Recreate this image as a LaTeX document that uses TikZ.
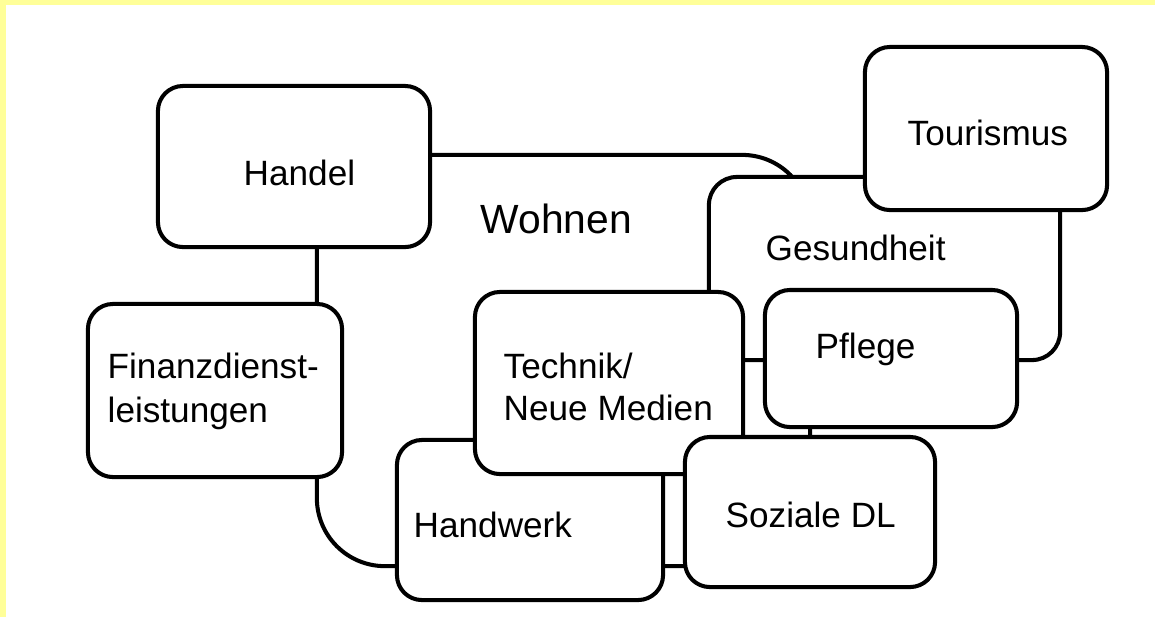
\documentclass[tikz,border=0pt]{standalone}
\usepackage{fontspec}
\setmainfont{Liberation Sans}
\definecolor{frameyellow}{RGB}{255,255,153}
\begin{document}
\begin{tikzpicture}[x=0.01cm,y=-0.01cm,
  box/.style={draw=black, fill=white, line width=1.15pt, rounded corners=0.25cm, inner sep=0pt, outer sep=0pt},
  bigbox/.style={box, rounded corners=0.68cm},
  lbl/.style={anchor=base west, inner sep=0pt, font=\fontsize{10}{12}\selectfont},
  biglbl/.style={lbl, font=\fontsize{11.6}{13}\selectfont}]
\fill[frameyellow] (0,0) rectangle (1155,617);
\fill[white] (6,5) rectangle (1155,617);
\useasboundingbox (0,0) rectangle (1155,617);
% shapes, back to front
\node[bigbox, minimum width=4.93cm, minimum height=4.11cm] (wohnen) at (563.5,360.5) {};
\node[box, rounded corners=0.28cm, minimum width=3.51cm, minimum height=1.83cm] (gesund) at (884.5,268.5) {};
\node[box, minimum width=2.42cm, minimum height=1.63cm] (tour) at (986,128.5) {};
\node[box, minimum width=2.72cm, minimum height=1.61cm] (handel) at (294,166.5) {};
\node[box, minimum width=2.54cm, minimum height=1.73cm] (finanz) at (215,390.5) {};
\node[box, minimum width=2.66cm, minimum height=1.60cm] (handwerk) at (530,520) {};
\node[box, minimum width=2.68cm, minimum height=1.82cm] (technik) at (609,383) {};
\node[box, minimum width=2.52cm, minimum height=1.37cm] (pflege) at (891,358.5) {};
\node[box, minimum width=2.50cm, minimum height=1.50cm] (sozial) at (810,512) {};
% labels
\node[biglbl] (wohnenT) at (480,233) {Wohnen};
\node[lbl] (handelT) at (243,185) {Handel};
\node[lbl] (tourT) at (907,145) {Tourismus};
\node[lbl] (gesundT) at (765,260) {Gesundheit};
\node[lbl] (finanzT1) at (107,378) {Finanzdienst-};
\node[lbl] (finanzT2) at (107,422) {leistungen};
\node[lbl] (technikT1) at (503,378) {Technik/};
\node[lbl] (technikT2) at (503,420) {Neue Medien};
\node[lbl] (pflegeT) at (815,358) {Pflege};
\node[lbl] (handwerkT) at (413,537) {Handwerk};
\node[lbl] (sozialT) at (725,527) {Soziale DL};
\end{tikzpicture}
\end{document}
